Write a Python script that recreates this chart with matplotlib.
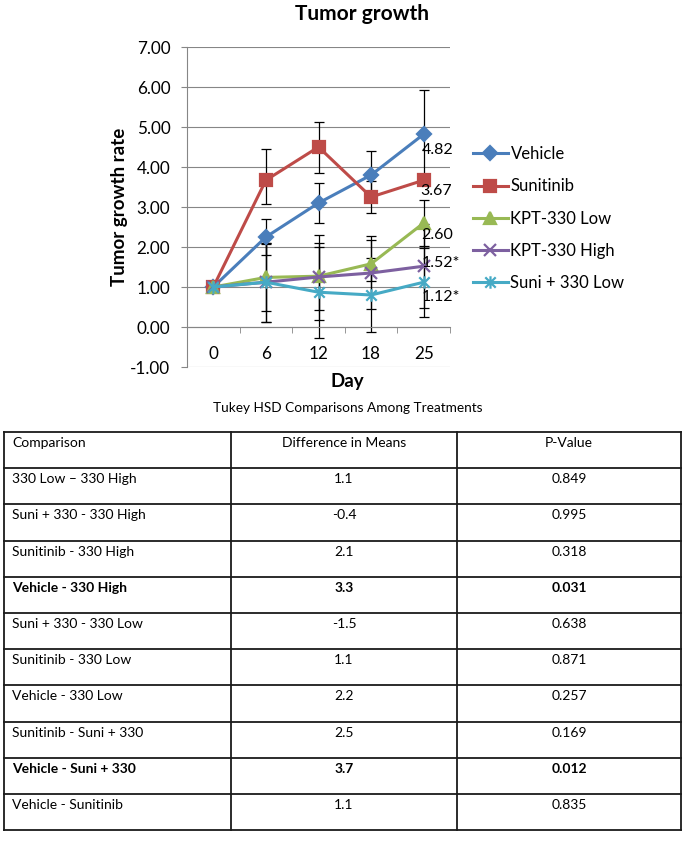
import matplotlib.pyplot as plt
from matplotlib.path import Path
from matplotlib.ticker import FormatStrFormatter
import numpy as np

plt.rcParams['font.family'] = ['Lato', 'DejaVu Sans']

# chart data
days = ['0', '6', '12', '18', '25']
series_names = ['Vehicle', 'Sunitinib', 'KPT-330 Low', 'KPT-330 High', 'Suni + 330 Low']
vehicle = [1.00, 2.25, 3.10, 3.80, 4.82]
sunitinib = [1.00, 3.67, 4.50, 3.25, 3.67]
kpt_low = [1.00, 1.24, 1.27, 1.58, 2.60]
kpt_high = [1.00, 1.12, 1.25, 1.35, 1.52]
suni_low = [1.00, 1.12, 0.87, 0.80, 1.12]

# error bars: [minus, plus]
vehicle_err = [[0, 0.46, 0.50, 0.59, 1.10], [0, 0.46, 0.50, 0.59, 1.10]]
sunitinib_err = [[0, 0.59, 0.66, 0.40, 0], [0, 0.79, 0.63, 0.40, 0]]
kpt_low_err = [[0, 0.83, 1.10, 0.43, 0.57], [0, 0.83, 1.03, 0.69, 0.57]]
kpt_high_err = [[0, 0.99, 0.82, 0.91, 1.05], [0, 0.99, 0.85, 0.83, 1.05]]
suni_low_err = [[0, 0.99, 1.14, 0.92, 0.86], [0, 0.99, 1.13, 0.92, 0.86]]

end_labels = ['4.82', '3.67', '2.60', '1.52*', '1.12*']

# table data
header = ['Comparison', 'Difference in Means', 'P-Value']
comparisons = ['330 Low \u2013 330 High', 'Suni + 330 - 330 High', 'Sunitinib - 330 High',
               'Vehicle - 330 High', 'Suni + 330 - 330 Low', 'Sunitinib - 330 Low',
               'Vehicle - 330 Low', 'Sunitinib - Suni + 330', 'Vehicle - Suni + 330',
               'Vehicle - Sunitinib']
diffs = ['1.1', '-0.4', '2.1', '3.3', '-1.5', '1.1', '2.2', '2.5', '3.7', '1.1']
pvals = ['0.849', '0.995', '0.318', '0.031', '0.638', '0.871', '0.257', '0.169', '0.012', '0.835']
bold_rows = [3, 8]

W, H = 686, 842
def fx(x): return x / W
def fy(y): return 1 - y / H

star = Path([(-1, -1), (1, 1), (-1, 1), (1, -1), (0, -1.2), (0, 1.2)],
            [Path.MOVETO, Path.LINETO, Path.MOVETO, Path.LINETO, Path.MOVETO, Path.LINETO])

values = [vehicle, sunitinib, kpt_low, kpt_high, suni_low]
errors = [vehicle_err, sunitinib_err, kpt_low_err, kpt_high_err, suni_low_err]
colors = ['#4A7EBB', '#BE4B48', '#98B954', '#7D60A0', '#46AAC5']
markers = ['D', 's', '^', 'x', star]
msizes = [7, 8.5, 9, 8, 9]
label_off = [(-2, -16), (-3, -11), (-2, -12), (-2, 3), (-2, -15)]

fig = plt.figure(figsize=(6.86, 8.42), dpi=100)
ax = fig.add_axes([fx(187), fy(367), (450 - 187) / W, (367 - 47) / H])
x = np.arange(len(days))

handles = []
for vals, err, c, m, ms in zip(values, errors, colors, markers, msizes):
    ax.errorbar(x, vals, yerr=err, fmt='none', ecolor='black', elinewidth=0.9,
                capsize=3.3, capthick=0.9, zorder=2)
    h, = ax.plot(x, vals, color=c, marker=m, ms=ms, lw=2.2, mfc=c, mec=c, mew=1.6, zorder=3)
    handles.append(h)

for vals, lab, off in zip(values, end_labels, label_off):
    ax.annotate(lab, xy=(x[-1], vals[-1]), xytext=off, textcoords='offset pixels',
                ha='left', va='center', fontsize=11.5, zorder=4)

ax.set_xlim(-0.5, 4.5)
ax.set_ylim(-1, 7)
ax.set_yticks(np.arange(-1, 8))
ax.yaxis.set_major_formatter(FormatStrFormatter('%.2f'))
ax.yaxis.grid(True, color='#868686', lw=0.8)
ax.set_axisbelow(True)
for s in ['top', 'right']:
    ax.spines[s].set_visible(False)
ax.spines['left'].set_color('#868686')
ax.spines['bottom'].set_color('#868686')
ax.spines['bottom'].set_position(('data', 0))
ax.set_xticks(x)
ax.set_xticklabels(days)
ax.set_xticks(np.arange(-0.5, 5, 1), minor=True)
ax.tick_params(axis='x', which='major', length=0, pad=14, labelsize=12.3)
ax.tick_params(axis='x', which='minor', length=4, color='#868686')
ax.tick_params(axis='y', length=4, color='#868686', pad=8, labelsize=12.3)

ax.set_ylabel('Tumor growth rate', fontsize=13.5, fontweight='bold')
ax.yaxis.set_label_coords(-0.225, 0.5)

fig.text(fx(362), fy(14), 'Tumor growth', ha='center', va='center', fontsize=15, fontweight='bold')
fig.text(fx(347), fy(382), 'Day', ha='center', va='center', fontsize=13.5, fontweight='bold')
fig.text(fx(348), fy(408), 'Tukey HSD Comparisons Among Treatments', ha='center', va='center',
         fontsize=9.8)

fig.legend(handles, series_names, loc='upper left', bbox_to_anchor=(fx(473), fy(146)),
           frameon=False, fontsize=12, handlelength=2.1, handletextpad=0.15,
           labelspacing=0.98, borderpad=0, borderaxespad=0)

# table
tx = fig.add_axes([0, 0, 1, 1], zorder=-1)
tx.set_xlim(0, W)
tx.set_ylim(H, 0)
tx.axis('off')
top, row_h = 432, 36.2
cols = [4, 231, 457, 681]
nrows = len(comparisons) + 1
for i in range(nrows + 1):
    tx.plot([cols[0], cols[-1]], [top + i * row_h] * 2, color='#1a1a1a', lw=1.3,
            solid_capstyle='projecting')
for c in cols:
    tx.plot([c, c], [top, top + nrows * row_h], color='#1a1a1a', lw=1.3,
            solid_capstyle='projecting')

rows = [header] + [list(r) for r in zip(comparisons, diffs, pvals)]
for i, row in enumerate(rows):
    yy = top + i * row_h + 11
    fw = 'bold' if (i - 1) in bold_rows else 'normal'
    tx.text(12, yy, row[0], ha='left', va='center', fontsize=10, fontweight=fw)
    tx.text((cols[1] + cols[2]) / 2, yy, row[1], ha='center', va='center', fontsize=10, fontweight=fw)
    tx.text((cols[2] + cols[3]) / 2, yy, row[2], ha='center', va='center', fontsize=10, fontweight=fw)

fig.savefig('out.png', dpi=100)
